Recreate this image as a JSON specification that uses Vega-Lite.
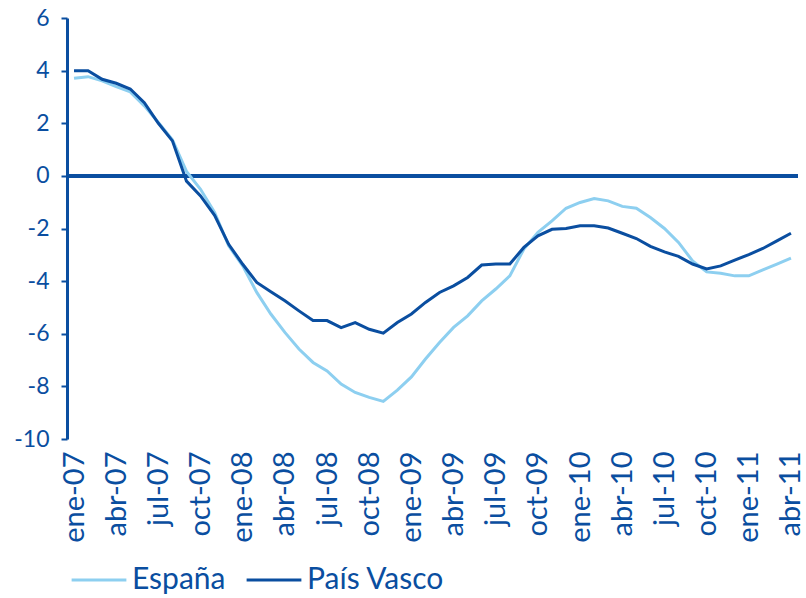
{
  "$schema": "https://vega.github.io/schema/vega-lite/v6.json",
  "width": 731,
  "height": 421,
  "autosize": "none",
  "padding": {"left": 67, "top": 18, "right": 8, "bottom": 159},
  "background": "white",
  "config": {"font": "Lato", "view": {"stroke": null}},
  "data": {"values": [
    {"mes": "ene-07", "serie": "España", "valor": 3.71},
    {"mes": "feb-07", "serie": "España", "valor": 3.77},
    {"mes": "mar-07", "serie": "España", "valor": 3.61},
    {"mes": "abr-07", "serie": "España", "valor": 3.39},
    {"mes": "may-07", "serie": "España", "valor": 3.19},
    {"mes": "jun-07", "serie": "España", "valor": 2.66},
    {"mes": "jul-07", "serie": "España", "valor": 2.03},
    {"mes": "ago-07", "serie": "España", "valor": 1.37},
    {"mes": "sep-07", "serie": "España", "valor": 0.17},
    {"mes": "oct-07", "serie": "España", "valor": -0.51},
    {"mes": "nov-07", "serie": "España", "valor": -1.39},
    {"mes": "dic-07", "serie": "España", "valor": -2.66},
    {"mes": "ene-08", "serie": "España", "valor": -3.42},
    {"mes": "feb-08", "serie": "España", "valor": -4.43},
    {"mes": "mar-08", "serie": "España", "valor": -5.25},
    {"mes": "abr-08", "serie": "España", "valor": -5.95},
    {"mes": "may-08", "serie": "España", "valor": -6.58},
    {"mes": "jun-08", "serie": "España", "valor": -7.09},
    {"mes": "jul-08", "serie": "España", "valor": -7.41},
    {"mes": "ago-08", "serie": "España", "valor": -7.91},
    {"mes": "sep-08", "serie": "España", "valor": -8.23},
    {"mes": "oct-08", "serie": "España", "valor": -8.42},
    {"mes": "nov-08", "serie": "España", "valor": -8.57},
    {"mes": "dic-08", "serie": "España", "valor": -8.14},
    {"mes": "ene-09", "serie": "España", "valor": -7.64},
    {"mes": "feb-09", "serie": "España", "valor": -6.96},
    {"mes": "mar-09", "serie": "España", "valor": -6.33},
    {"mes": "abr-09", "serie": "España", "valor": -5.76},
    {"mes": "may-09", "serie": "España", "valor": -5.32},
    {"mes": "jun-09", "serie": "España", "valor": -4.75},
    {"mes": "jul-09", "serie": "España", "valor": -4.3},
    {"mes": "ago-09", "serie": "España", "valor": -3.8},
    {"mes": "sep-09", "serie": "España", "valor": -2.78},
    {"mes": "oct-09", "serie": "España", "valor": -2.15},
    {"mes": "nov-09", "serie": "España", "valor": -1.71},
    {"mes": "dic-09", "serie": "España", "valor": -1.23},
    {"mes": "ene-10", "serie": "España", "valor": -1.01},
    {"mes": "feb-10", "serie": "España", "valor": -0.86},
    {"mes": "mar-10", "serie": "España", "valor": -0.95},
    {"mes": "abr-10", "serie": "España", "valor": -1.16},
    {"mes": "may-10", "serie": "España", "valor": -1.23},
    {"mes": "jun-10", "serie": "España", "valor": -1.58},
    {"mes": "jul-10", "serie": "España", "valor": -2.0},
    {"mes": "ago-10", "serie": "España", "valor": -2.53},
    {"mes": "sep-10", "serie": "España", "valor": -3.23},
    {"mes": "oct-10", "serie": "España", "valor": -3.65},
    {"mes": "nov-10", "serie": "España", "valor": -3.7},
    {"mes": "dic-10", "serie": "España", "valor": -3.8},
    {"mes": "ene-11", "serie": "España", "valor": -3.8},
    {"mes": "feb-11", "serie": "España", "valor": -3.57},
    {"mes": "mar-11", "serie": "España", "valor": -3.35},
    {"mes": "abr-11", "serie": "España", "valor": -3.13},
    {"mes": "ene-07", "serie": "País Vasco", "valor": 4.0},
    {"mes": "feb-07", "serie": "País Vasco", "valor": 4.0},
    {"mes": "mar-07", "serie": "País Vasco", "valor": 3.67},
    {"mes": "abr-07", "serie": "País Vasco", "valor": 3.52},
    {"mes": "may-07", "serie": "País Vasco", "valor": 3.3},
    {"mes": "jun-07", "serie": "País Vasco", "valor": 2.78},
    {"mes": "jul-07", "serie": "País Vasco", "valor": 2.0},
    {"mes": "ago-07", "serie": "País Vasco", "valor": 1.33},
    {"mes": "sep-07", "serie": "País Vasco", "valor": -0.2},
    {"mes": "oct-07", "serie": "País Vasco", "valor": -0.76},
    {"mes": "nov-07", "serie": "País Vasco", "valor": -1.5},
    {"mes": "dic-07", "serie": "País Vasco", "valor": -2.6},
    {"mes": "ene-08", "serie": "País Vasco", "valor": -3.36},
    {"mes": "feb-08", "serie": "País Vasco", "valor": -4.05},
    {"mes": "mar-08", "serie": "País Vasco", "valor": -4.4},
    {"mes": "abr-08", "serie": "País Vasco", "valor": -4.75},
    {"mes": "may-08", "serie": "País Vasco", "valor": -5.13},
    {"mes": "jun-08", "serie": "País Vasco", "valor": -5.5},
    {"mes": "jul-08", "serie": "País Vasco", "valor": -5.5},
    {"mes": "ago-08", "serie": "País Vasco", "valor": -5.77},
    {"mes": "sep-08", "serie": "País Vasco", "valor": -5.58},
    {"mes": "oct-08", "serie": "País Vasco", "valor": -5.83},
    {"mes": "nov-08", "serie": "País Vasco", "valor": -5.98},
    {"mes": "dic-08", "serie": "País Vasco", "valor": -5.57},
    {"mes": "ene-09", "serie": "País Vasco", "valor": -5.25},
    {"mes": "feb-09", "serie": "País Vasco", "valor": -4.81},
    {"mes": "mar-09", "serie": "País Vasco", "valor": -4.43},
    {"mes": "abr-09", "serie": "País Vasco", "valor": -4.18},
    {"mes": "may-09", "serie": "País Vasco", "valor": -3.86},
    {"mes": "jun-09", "serie": "País Vasco", "valor": -3.39},
    {"mes": "jul-09", "serie": "País Vasco", "valor": -3.35},
    {"mes": "ago-09", "serie": "País Vasco", "valor": -3.35},
    {"mes": "sep-09", "serie": "País Vasco", "valor": -2.72},
    {"mes": "oct-09", "serie": "País Vasco", "valor": -2.28},
    {"mes": "nov-09", "serie": "País Vasco", "valor": -2.03},
    {"mes": "dic-09", "serie": "País Vasco", "valor": -2.0},
    {"mes": "ene-10", "serie": "País Vasco", "valor": -1.9},
    {"mes": "feb-10", "serie": "País Vasco", "valor": -1.9},
    {"mes": "mar-10", "serie": "País Vasco", "valor": -1.98},
    {"mes": "abr-10", "serie": "País Vasco", "valor": -2.18},
    {"mes": "may-10", "serie": "País Vasco", "valor": -2.38},
    {"mes": "jun-10", "serie": "País Vasco", "valor": -2.68},
    {"mes": "jul-10", "serie": "País Vasco", "valor": -2.89},
    {"mes": "ago-10", "serie": "País Vasco", "valor": -3.06},
    {"mes": "sep-10", "serie": "País Vasco", "valor": -3.35},
    {"mes": "oct-10", "serie": "País Vasco", "valor": -3.54},
    {"mes": "nov-10", "serie": "País Vasco", "valor": -3.42},
    {"mes": "dic-10", "serie": "País Vasco", "valor": -3.2},
    {"mes": "ene-11", "serie": "País Vasco", "valor": -2.99},
    {"mes": "feb-11", "serie": "País Vasco", "valor": -2.76},
    {"mes": "mar-11", "serie": "País Vasco", "valor": -2.47},
    {"mes": "abr-11", "serie": "País Vasco", "valor": -2.18}
  ]},
  "layer": [
    {
      "mark": {"type": "rule", "color": "#0A4EA0", "strokeWidth": 3},
      "encoding": {"y": {"datum": 0, "type": "quantitative"}}
    },
    {
      "mark": {"type": "line", "strokeWidth": 3},
      "encoding": {
        "x": {
          "field": "mes", "type": "ordinal", "sort": null,
          "scale": {"type": "point", "padding": 0.5},
          "axis": {
            "title": null,
            "values": ["ene-07","abr-07","jul-07","oct-07","ene-08","abr-08","jul-08","oct-08","ene-09","abr-09","jul-09","oct-09","ene-10","abr-10","jul-10","oct-10","ene-11","abr-11"],
            "labelAngle": -90,
            "labelFontSize": 29,
            "labelColor": "#0A4EA0",
            "labelPadding": 12,
            "domain": false,
            "ticks": false,
            "grid": false
          }
        },
        "y": {
          "field": "valor", "type": "quantitative",
          "scale": {"domain": [-10, 6], "nice": false, "zero": false},
          "axis": {
            "title": null,
            "values": [-10, -8, -6, -4, -2, 0, 2, 4, 6],
            "labelExpr": "'' + datum.value",
            "labelFontSize": 23,
            "labelColor": "#0A4EA0",
            "labelPadding": 12,
            "domainColor": "#0A4EA0",
            "domainWidth": 3,
            "tickColor": "#0A4EA0",
            "tickWidth": 2,
            "tickSize": 6,
            "gridColor": "#C9E9F7",
            "gridWidth": 1.5
          }
        },
        "color": {
          "field": "serie", "type": "nominal",
          "scale": {"domain": ["España", "País Vasco"], "range": ["#8DCFF0", "#0A4EA0"]},
          "legend": {
            "title": null,
            "orient": "none",
            "legendX": 3,
            "legendY": 533,
            "direction": "horizontal",
            "symbolType": "stroke",
            "symbolSize": 3000,
            "symbolStrokeWidth": 3,
            "labelFontSize": 30,
            "labelColor": "#0A4EA0",
            "labelOffset": 4,
            "columnPadding": 14,
            "labelLimit": 300
          }
        }
      }
    }
  ]
}
